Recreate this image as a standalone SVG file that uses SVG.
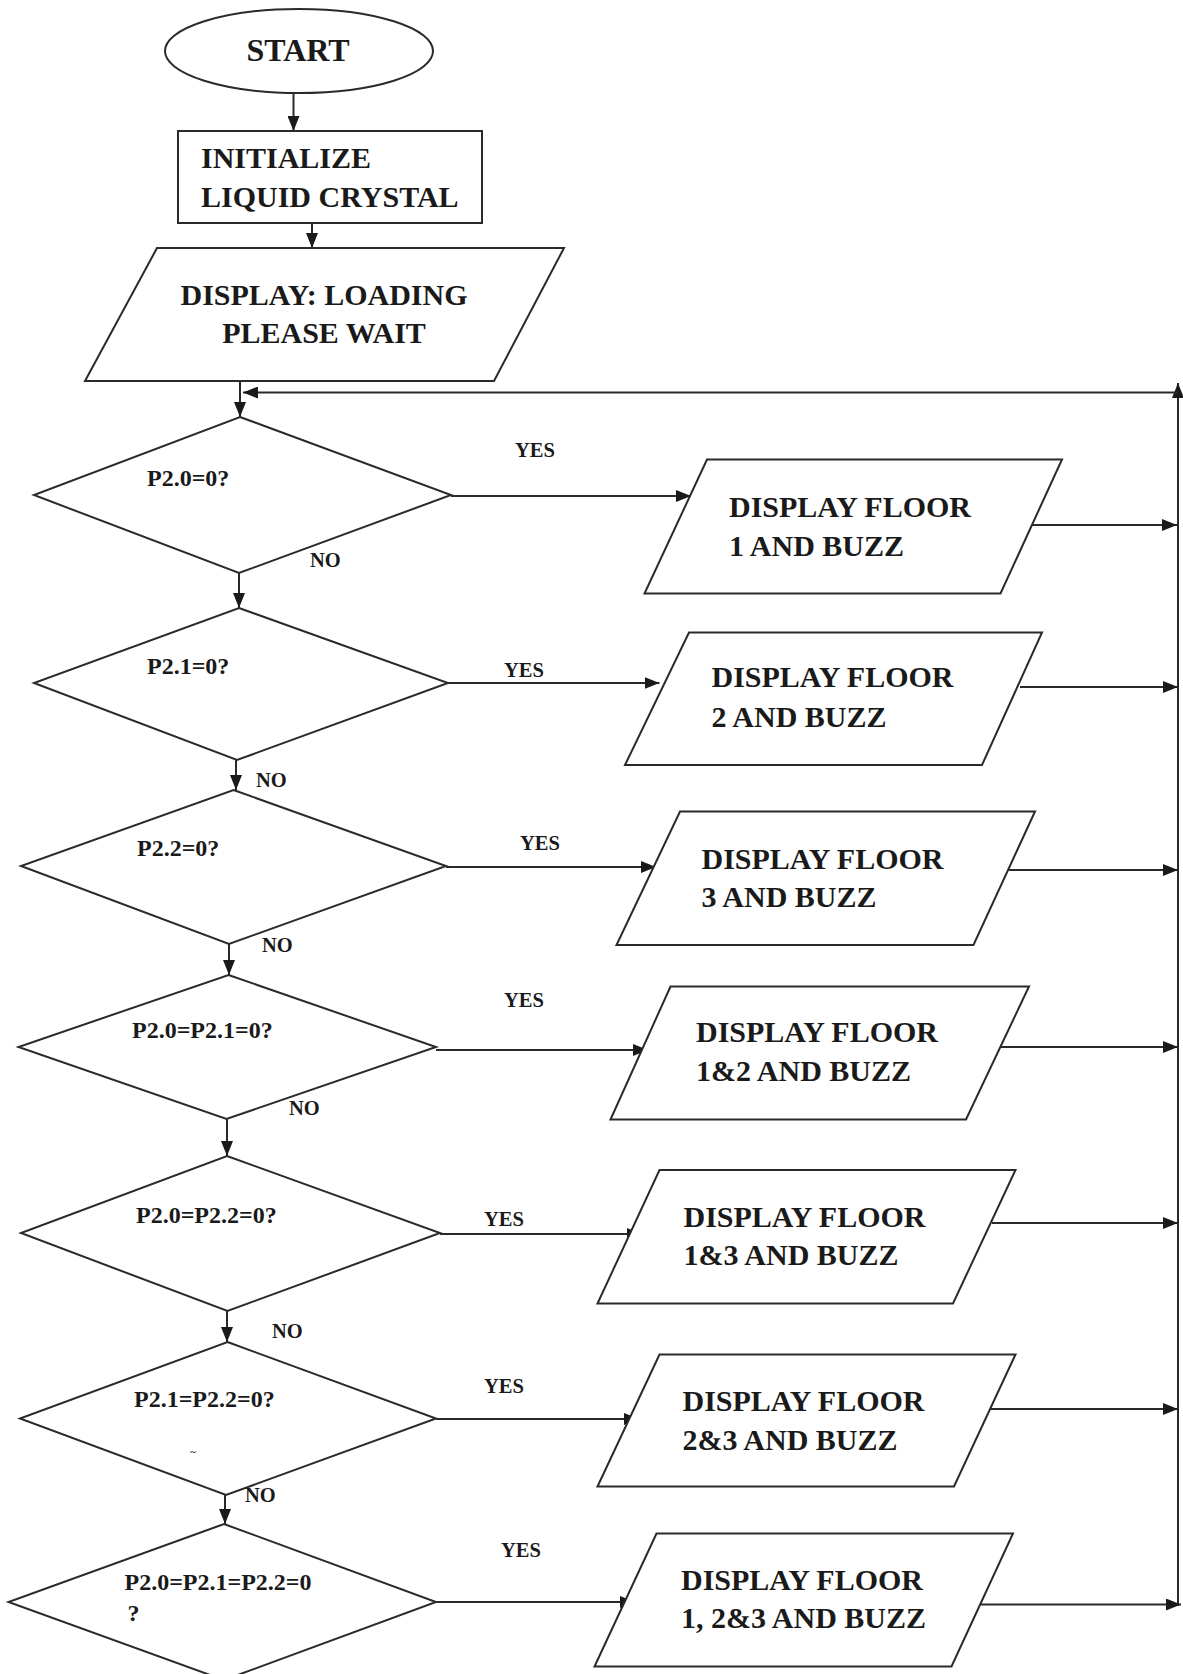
<svg xmlns="http://www.w3.org/2000/svg" width="1183" height="1674" viewBox="0 0 1183 1674">
<style>
.shape{fill:#fff;stroke:#2a2a2a;stroke-width:2}
.ln{fill:none;stroke:#2a2a2a;stroke-width:2}
.t{font-family:"Liberation Serif","Times New Roman",serif;font-weight:bold;fill:#1a1a1a}
.big{font-size:30px}
.q{font-size:24px}
.lbl{font-size:20.5px}
</style>
<defs>
<marker id="arr" viewBox="0 0 15 12" refX="15" refY="6" markerWidth="15" markerHeight="12" markerUnits="userSpaceOnUse" orient="auto">
<path d="M0,0 L15,6 L0,12 z" fill="#1a1a1a"/>
</marker>
</defs>
<rect width="1183" height="1674" fill="#fff"/>

<g id="connectors">
<line class="ln" x1="293.5" y1="93" x2="293.5" y2="131" marker-end="url(#arr)"/>
<line class="ln" x1="312" y1="223" x2="312" y2="248" marker-end="url(#arr)"/>
<line class="ln" x1="240" y1="381" x2="240" y2="417" marker-end="url(#arr)"/>
<line class="ln" x1="1178" y1="1606" x2="1178" y2="383" marker-end="url(#arr)"/>
<line class="ln" x1="1178" y1="392.5" x2="243" y2="392.5" marker-end="url(#arr)"/>
<line class="ln" x1="239" y1="573" x2="239" y2="608" marker-end="url(#arr)"/>
<line class="ln" x1="236" y1="760" x2="236" y2="790" marker-end="url(#arr)"/>
<line class="ln" x1="229" y1="944" x2="229" y2="975" marker-end="url(#arr)"/>
<line class="ln" x1="227" y1="1119" x2="227" y2="1156" marker-end="url(#arr)"/>
<line class="ln" x1="227" y1="1311" x2="227" y2="1342" marker-end="url(#arr)"/>
<line class="ln" x1="225" y1="1495" x2="225" y2="1524" marker-end="url(#arr)"/>
<line class="ln" x1="451" y1="496" x2="691" y2="496" marker-end="url(#arr)"/>
<line class="ln" x1="448" y1="683" x2="659.5" y2="683" marker-end="url(#arr)"/>
<line class="ln" x1="446" y1="867" x2="656" y2="867" marker-end="url(#arr)"/>
<line class="ln" x1="436" y1="1050" x2="648" y2="1050" marker-end="url(#arr)"/>
<line class="ln" x1="440" y1="1234" x2="642" y2="1234" marker-end="url(#arr)"/>
<line class="ln" x1="436" y1="1419" x2="639" y2="1419" marker-end="url(#arr)"/>
<line class="ln" x1="436" y1="1602" x2="635" y2="1602" marker-end="url(#arr)"/>
<line class="ln" x1="1032" y1="525" x2="1177" y2="525" marker-end="url(#arr)"/>
<line class="ln" x1="1020" y1="687" x2="1178" y2="687" marker-end="url(#arr)"/>
<line class="ln" x1="1009" y1="870" x2="1178" y2="870" marker-end="url(#arr)"/>
<line class="ln" x1="1001" y1="1047" x2="1178" y2="1047" marker-end="url(#arr)"/>
<line class="ln" x1="992" y1="1223" x2="1178" y2="1223" marker-end="url(#arr)"/>
<line class="ln" x1="991" y1="1409" x2="1178" y2="1409" marker-end="url(#arr)"/>
<line class="ln" x1="981" y1="1604.5" x2="1181" y2="1604.5" marker-end="url(#arr)"/>
<g class="t lbl">
<text x="515" y="457">YES</text>
<text x="504" y="677">YES</text>
<text x="520" y="850">YES</text>
<text x="504" y="1007">YES</text>
<text x="484" y="1226">YES</text>
<text x="484" y="1393">YES</text>
<text x="501" y="1557">YES</text>
<text x="310" y="567">NO</text>
<text x="256" y="787">NO</text>
<text x="262" y="952">NO</text>
<text x="289" y="1115">NO</text>
<text x="272" y="1338">NO</text>
<text x="245" y="1502">NO</text>
</g>
</g>

<g id="start">
<ellipse class="shape" cx="299" cy="51" rx="134" ry="42"/>
<text class="t" x="298" y="61" font-size="32" text-anchor="middle">START</text>
</g>

<g id="init">
<rect class="shape" x="178" y="131" width="304" height="92"/>
<text class="t" x="201" y="168" font-size="30">INITIALIZE</text>
<text class="t" x="201" y="207" font-size="30">LIQUID CRYSTAL</text>
</g>

<g id="loading">
<polygon class="shape" points="157,248 564,248 494,381 85,381"/>
<text class="t big" x="324" y="305" text-anchor="middle">DISPLAY: LOADING</text>
<text class="t big" x="324" y="343" text-anchor="middle">PLEASE WAIT</text>
</g>

<g id="d1">
<polygon class="shape" points="240,417 451,495 239,573 34,495"/>
<text class="t q" x="147" y="486">P2.0=0?</text>
</g>
<g id="d2">
<polygon class="shape" points="239,608 448,683 237,760 34,683"/>
<text class="t q" x="147" y="674">P2.1=0?</text>
</g>
<g id="d3">
<polygon class="shape" points="233.5,790 446,866 229,944 21,866"/>
<text class="t q" x="137" y="856">P2.2=0?</text>
</g>
<g id="d4">
<polygon class="shape" points="228.5,975 436,1047 226.5,1119 18.5,1047"/>
<text class="t q" x="132" y="1038">P2.0=P2.1=0?</text>
</g>
<g id="d5">
<polygon class="shape" points="227,1156 440,1233 227.5,1311 21,1233"/>
<text class="t q" x="136" y="1223">P2.0=P2.2=0?</text>
</g>
<g id="d6">
<polygon class="shape" points="227.5,1342 436,1418.5 226,1495 20,1418.5"/>
<text class="t q" x="134" y="1407">P2.1=P2.2=0?</text>
<text class="t" x="193" y="1455" font-size="11" text-anchor="middle">~</text>
</g>
<g id="d7">
<polygon class="shape" points="224,1524 436,1602 224,1680 8.5,1602"/>
<text class="t q" x="124.5" y="1590">P2.0=P2.1=P2.2=0</text>
<text class="t q" x="127.5" y="1621">?</text>
</g>

<g id="p1">
<polygon class="shape" points="707,459.5 1062,459.5 1000.5,593.5 644.5,593.5"/>
<text class="t big" x="729" y="517">DISPLAY FLOOR</text>
<text class="t big" x="729" y="556">1 AND BUZZ</text>
</g>
<g id="p2">
<polygon class="shape" points="689,632.5 1042,632.5 982,765 625,765"/>
<text class="t big" x="711.5" y="687">DISPLAY FLOOR</text>
<text class="t big" x="711.5" y="727">2 AND BUZZ</text>
</g>
<g id="p3">
<polygon class="shape" points="680,811.5 1035,811.5 973.5,945 616.5,945"/>
<text class="t big" x="701.5" y="869">DISPLAY FLOOR</text>
<text class="t big" x="701.5" y="907">3 AND BUZZ</text>
</g>
<g id="p4">
<polygon class="shape" points="670.5,986.5 1029,986.5 966,1119.5 610.5,1119.5"/>
<text class="t big" x="696" y="1042">DISPLAY FLOOR</text>
<text class="t big" x="696" y="1081">1&amp;2 AND BUZZ</text>
</g>
<g id="p5">
<polygon class="shape" points="659.5,1170 1015.5,1170 953,1303.5 597.5,1303.5"/>
<text class="t big" x="683.5" y="1227">DISPLAY FLOOR</text>
<text class="t big" x="683.5" y="1265">1&amp;3 AND BUZZ</text>
</g>
<g id="p6">
<polygon class="shape" points="659.5,1354.5 1015.5,1354.5 954,1486.5 597.5,1486.5"/>
<text class="t big" x="682.5" y="1411">DISPLAY FLOOR</text>
<text class="t big" x="682.5" y="1450">2&amp;3 AND BUZZ</text>
</g>
<g id="p7">
<polygon class="shape" points="656.5,1533.5 1013,1533.5 951.5,1666.5 594.5,1666.5"/>
<text class="t big" x="681" y="1590">DISPLAY FLOOR</text>
<text class="t big" x="681" y="1628">1, 2&amp;3 AND BUZZ</text>
</g>
</svg>
